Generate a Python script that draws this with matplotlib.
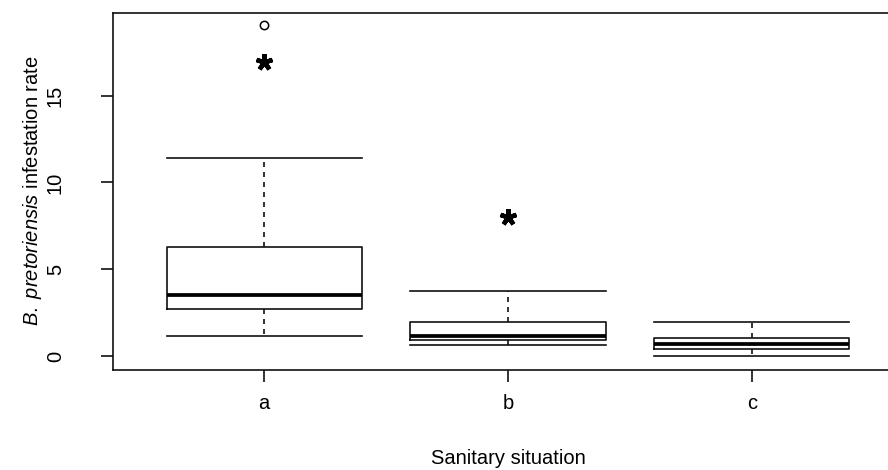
import matplotlib
matplotlib.use("Agg")
import matplotlib.pyplot as plt

plt.rcParams['font.family'] = ['Liberation Sans', 'DejaVu Sans']
plt.rcParams['mathtext.fontset'] = 'custom'
plt.rcParams['mathtext.it'] = 'Liberation Sans:italic'
plt.rcParams['mathtext.rm'] = 'Liberation Sans'

# Values
groups = ['a', 'b', 'c']
whis_low = [1.17, 0.63, 0.0]
q1 = [2.71, 0.92, 0.39]
medians = [3.53, 1.17, 0.71]
q3 = [6.30, 1.98, 1.02]
whis_high = [11.42, 3.76, 1.98]
outliers = [[19.07], [], []]
# asterisks drawn above groups a and b
star_groups = [1, 2]
star_values = [16.95, 8.0]

stats = []
for i, g in enumerate(groups):
    stats.append(dict(label=g, whislo=whis_low[i], q1=q1[i], med=medians[i],
                      q3=q3[i], whishi=whis_high[i], fliers=outliers[i]))

fig = plt.figure(figsize=(8.88, 4.70), dpi=100)
ax = fig.add_axes([113 / 888, 100 / 470, 790 / 888, 357.3 / 470])

ax.bxp(stats, positions=[1, 2, 3], widths=0.8,
       boxprops=dict(color='#111111', linewidth=1.2),
       medianprops=dict(color='black', linewidth=2.7, solid_capstyle='butt'),
       whiskerprops=dict(color='#111111', linewidth=1.2, linestyle=(0, (3, 3))),
       capprops=dict(color='#111111', linewidth=1.2),
       capwidths=0.8,
       flierprops=dict(marker='o', markersize=6, markerfacecolor='none',
                       markeredgecolor='black', markeredgewidth=1.1))

ax.plot(star_groups, star_values, linestyle='none', marker=(5, 2, 0),
        markersize=12, markeredgewidth=3.2, color='black')

ax.set_xlim(0.38, 3.62)
ax.set_ylim(-0.806, 19.78)
ax.set_yticks([0, 5, 10, 15])
ax.set_yticklabels(['0', '5', '10', '15'], rotation=90, va='center')
ax.set_xticks([1, 2, 3])
ax.set_xticklabels(groups)

ax.tick_params(axis='both', direction='out', length=8.6, width=1.2,
               labelsize=14.5, color='#111111')
ax.tick_params(axis='y', pad=26)
ax.tick_params(axis='x', pad=9)
for s in ax.spines.values():
    s.set_linewidth(1.2)
    s.set_color('#111111')

fig.text(508 / 888, 1 - 459 / 470, 'Sanitary situation', ha='center',
         va='center', fontsize=14.5)
fig.text(32 / 888, 1 - 191 / 470, r'$B.\ pretoriensis$ infestation rate',
         rotation=90, ha='center', va='center', fontsize=14.5)

fig.savefig('out.png', dpi=100)
